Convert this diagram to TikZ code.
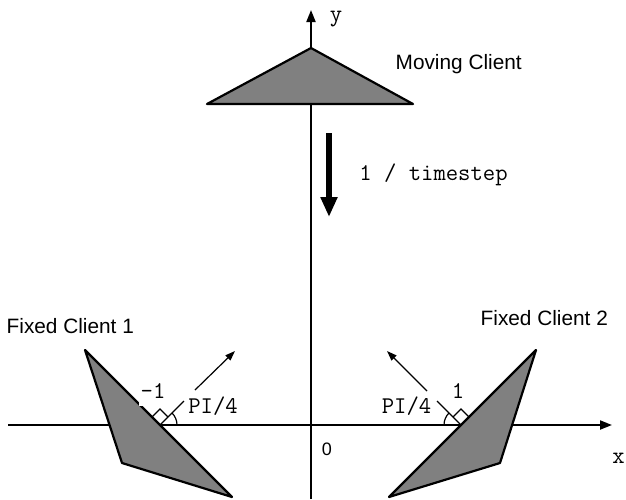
\documentclass[tikz,border=0pt]{standalone}
\usepackage{fontspec}
\setmainfont{Liberation Sans}
\usetikzlibrary{arrows.meta}
\definecolor{clientgray}{RGB}{128,128,128}
\begin{document}
\begin{tikzpicture}[x=1pt,y=-1pt,
  axis/.style={line width=2pt,-{Triangle[length=12pt,width=9pt]}},
  client/.style={fill=clientgray,draw=black,line width=2.2pt,line join=round},
  thinline/.style={line width=1.2pt},
  normarrow/.style={line width=1.2pt,-{Triangle[length=10pt,width=7pt]}},
  sanslabel/.style={inner sep=0pt,anchor=base west,font=\fontsize{20.8}{24}\selectfont},
  monolabel/.style={inner sep=0pt,anchor=base,font=\fontsize{24}{27}\selectfont\ttfamily}]
\useasboundingbox (0,0) rectangle (626,499);
% axes
\coordinate (xs) at (8,425);
\coordinate (xe) at (612,425);
\coordinate (ys) at (311,499);
\coordinate (ye) at (311,10);
\draw[axis] (xs) -- (xe);
\draw[axis] (ys) -- (ye);
% moving client
\draw[client] (311,48) -- (207,104) -- (413,104) -- cycle;
% thick motion arrow
\coordinate (ma) at (329,133);
\coordinate (mb) at (329,217);
\draw[line width=5.5pt,-{Triangle[length=20pt,width=16pt]}] (ma) -- (mb);
% fixed client 1
\draw[client] (85,350) -- (122,463) -- (232,497) -- cycle;
\coordinate (p1) at (160,425);
\fill[white] (139,386) rectangle (166,406);
\draw[thinline] (p1) -- (184,401);
\draw[normarrow] (195,390) -- (235,351);
\draw[thinline] (152,417) -- (160,409) -- (168,417);
\draw[thinline] (177,425) arc[start angle=0,end angle=-45,radius=17];
% fixed client 2
\draw[client] (536,350) -- (500,463) -- (389,497) -- cycle;
\coordinate (p2) at (461,425);
\draw[thinline] (p2) -- (437,401);
\draw[normarrow] (427,391) -- (387,351);
\draw[thinline] (453,417) -- (461,409) -- (469,417);
\draw[thinline] (444,425) arc[start angle=180,end angle=225,radius=17];
% labels
\node[sanslabel] (mc) at (395.5,69) {Moving Client};
\node[sanslabel] (fc1) at (6.5,333) {Fixed Client 1};
\node[sanslabel] (fc2) at (480.5,325) {Fixed Client 2};
\node[inner sep=0pt,anchor=base,font=\fontsize{18}{20}\selectfont] (zero) at (327,455) {0};
\node[monolabel] (ylab) at (336,21) {y};
\node[monolabel] (xlab) at (618.5,463) {x};
\node[monolabel] (ts) at (433.5,180.5) {1 / timestep};
\node[monolabel] (m1) at (153,398) {-1};
\node[monolabel] (o1) at (458,398) {1};
\node[monolabel] (pi1) at (213,413) {PI/4};
\node[monolabel] (pi2) at (406.5,413) {PI/4};
\end{tikzpicture}
\end{document}
